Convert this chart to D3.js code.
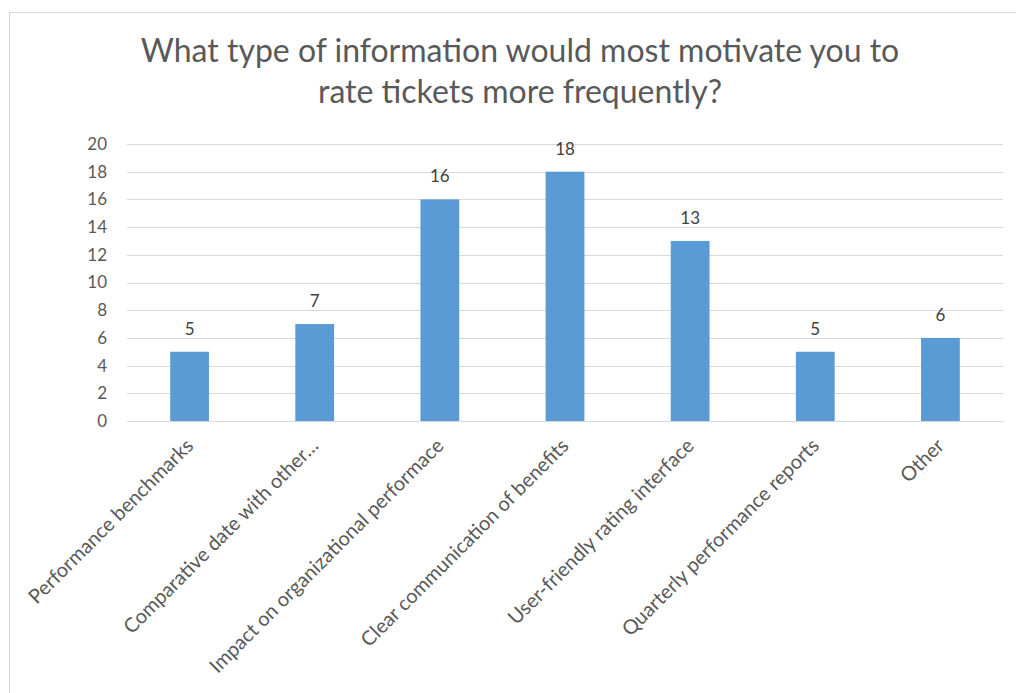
<!DOCTYPE html>
<html>
<head>
<meta charset="utf-8">
<script src="https://cdn.jsdelivr.net/npm/d3@7"></script>
<style>
  html, body { margin: 0; padding: 0; background: #fff; }
  svg { display: block; }
</style>
</head>
<body>
<svg id="chart" width="1016" height="693"></svg>
<script>
const categories = [
  "Performance benchmarks",
  "Comparative date with other\u2026",
  "Impact on organizational performace",
  "Clear communication of benefits",
  "User-friendly rating interface",
  "Quarterly performance reports",
  "Other"
];
const values = [5, 7, 16, 18, 13, 5, 6];
const yTicks = [0, 2, 4, 6, 8, 10, 12, 14, 16, 18, 20];
const titleLines = ["What type of information would most motivate you to", "rate tickets more frequently?"];

const FONT = "Lato, 'Open Sans', sans-serif";
const svg = d3.select("#chart");

// chart border
svg.append("rect")
  .attr("x", 9.5).attr("y", 12.5)
  .attr("width", 1030).attr("height", 700)
  .attr("fill", "#fff").attr("stroke", "#d9d9d9").attr("stroke-width", 1);

const plot = { left: 127, right: 1003, top: 144, bottom: 421 };

const x = d3.scaleBand().domain(categories).range([plot.left, plot.right]).paddingInner(0.69).paddingOuter(0.345);
const y = d3.scaleLinear().domain([0, 20]).range([plot.bottom, plot.top]);

// title
svg.append("g").selectAll("text").data(titleLines).join("text")
  .attr("x", 520).attr("y", (d, i) => 62 + i * 41)
  .attr("text-anchor", "middle")
  .attr("font-family", FONT).attr("font-size", 32)
  .attr("fill", "#595959")
  .text(d => d);

// gridlines
const grid = d3.axisLeft(y).tickValues(yTicks).tickSize(-(plot.right - plot.left)).tickFormat("");
svg.append("g").attr("transform", `translate(${plot.left},0)`).call(grid)
  .call(g => g.select(".domain").remove())
  .call(g => g.selectAll("line").attr("stroke", "#d9d9d9").attr("shape-rendering", "crispEdges"));

// y axis labels
const yAxis = d3.axisLeft(y).tickValues(yTicks).tickSize(0).tickPadding(20);
svg.append("g").attr("transform", `translate(${plot.left},0)`).call(yAxis)
  .call(g => g.select(".domain").remove())
  .call(g => g.selectAll("text").attr("font-family", FONT).attr("font-size", 17).attr("fill", "#595959"));

// bars
svg.append("g").selectAll("rect").data(values).join("rect")
  .attr("x", (d, i) => x(categories[i]))
  .attr("y", d => y(d))
  .attr("width", x.bandwidth())
  .attr("height", d => y(0) - y(d))
  .attr("fill", "#5b9bd5");

// value labels
svg.append("g").selectAll("text").data(values).join("text")
  .attr("x", (d, i) => x(categories[i]) + x.bandwidth() / 2)
  .attr("y", d => y(d) - 17)
  .attr("text-anchor", "middle")
  .attr("font-family", FONT).attr("font-size", 17)
  .attr("fill", "#404040")
  .text(d => d);

// x axis
const xAxis = d3.axisBottom(x).tickSize(0).tickPadding(0);
svg.append("g").attr("transform", `translate(0,${plot.bottom})`).call(xAxis)
  .call(g => g.select(".domain").attr("stroke", "#d9d9d9").attr("shape-rendering", "crispEdges"))
  .call(g => g.selectAll(".tick text")
    .attr("font-family", FONT).attr("font-size", 20).attr("fill", "#595959")
    .attr("text-anchor", "end")
    .attr("y", 0).attr("dy", 0)
    .attr("transform", "translate(5,26) rotate(-45)"));
</script>
</body>
</html>
